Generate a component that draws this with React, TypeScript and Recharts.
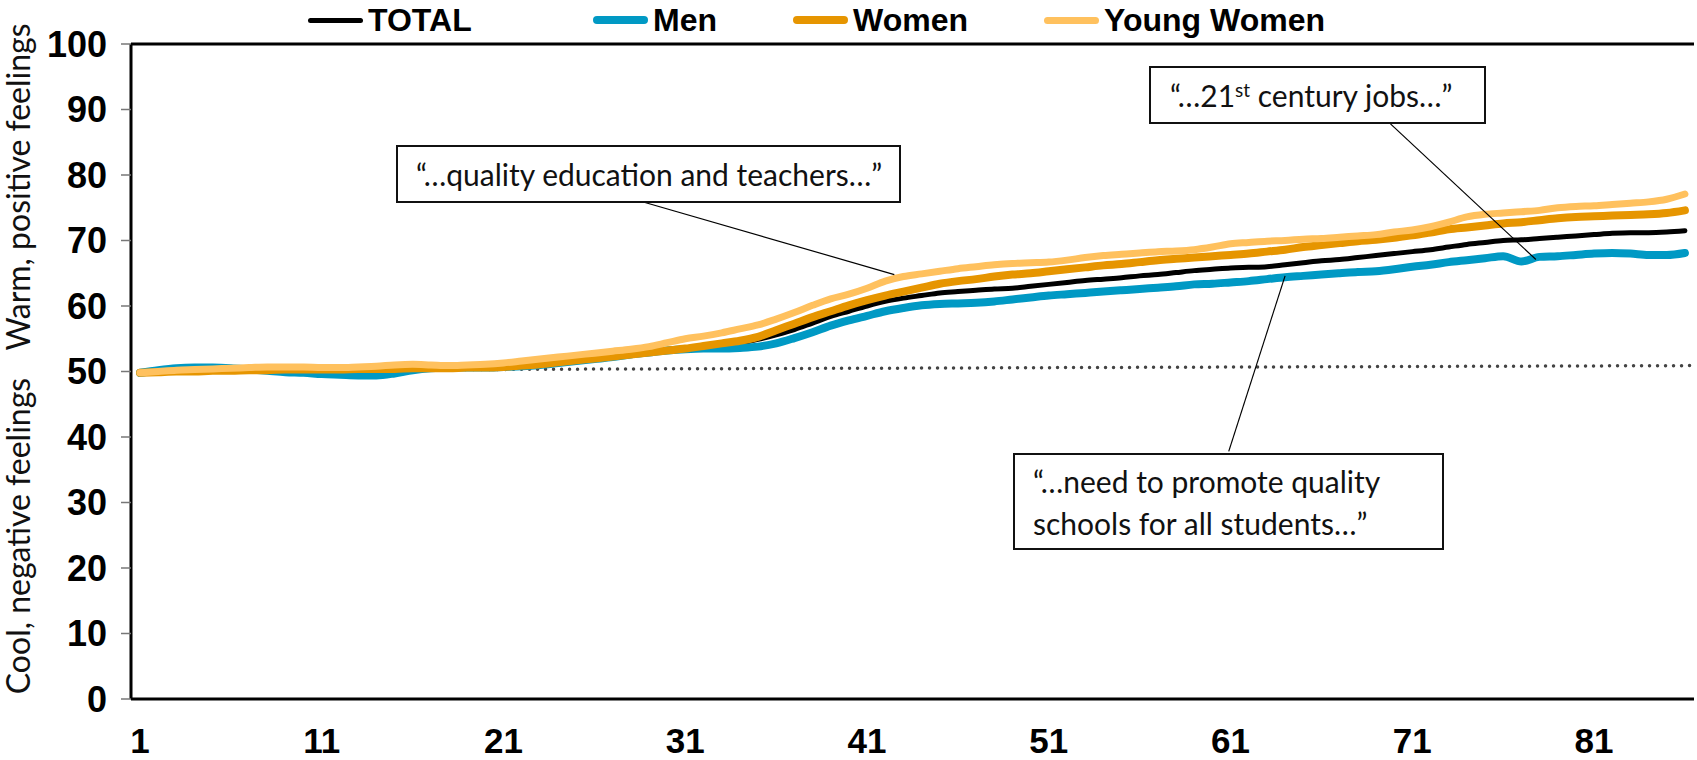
import React from "react";
import { LineChart, Line, XAxis, YAxis, ReferenceLine } from "recharts";

// values, one per category 1..86
const total = [
  49.8, 50.0, 50.1, 50.2, 50.2, 50.2, 50.1, 50.1, 50.1, 50.0,
  50.0, 49.9, 49.9, 49.9, 50.1, 50.3, 50.4, 50.5, 50.5, 50.6,
  50.7, 50.9, 51.1, 51.4, 51.7, 52.0, 52.3, 52.6, 52.9, 53.1,
  53.3, 53.6, 53.9, 54.3, 54.9, 55.6, 56.4, 57.4, 58.4, 59.2,
  60.0, 60.7, 61.2, 61.6, 62.0, 62.2, 62.4, 62.6, 62.7, 63.0,
  63.3, 63.6, 63.9, 64.1, 64.3, 64.6, 64.8, 65.1, 65.4, 65.6,
  65.8, 65.9, 66.0, 66.3, 66.6, 66.9, 67.1, 67.4, 67.7, 68.0,
  68.3, 68.6, 69.0, 69.4, 69.7, 70.0, 70.1, 70.3, 70.5, 70.7,
  70.9, 71.1, 71.2, 71.2, 71.3, 71.5,
];
const men = [
  49.8, 50.2, 50.5, 50.6, 50.6, 50.5, 50.3, 50.1, 49.9, 49.8,
  49.6, 49.5, 49.4, 49.4, 49.7, 50.2, 50.5, 50.6, 50.6, 50.6,
  50.7, 50.8, 51.0, 51.3, 51.6, 51.9, 52.2, 52.6, 52.9, 53.2,
  53.4, 53.5, 53.5, 53.6, 53.8, 54.3, 55.1, 56.0, 57.0, 57.8,
  58.5, 59.2, 59.7, 60.1, 60.3, 60.4, 60.5, 60.7, 61.0, 61.3,
  61.6, 61.8, 62.0, 62.2, 62.4, 62.6, 62.8, 63.0, 63.3, 63.4,
  63.6, 63.8, 64.1, 64.4, 64.6, 64.8, 65.0, 65.2, 65.3, 65.6,
  66.0, 66.3, 66.7, 67.0, 67.3, 67.6, 66.8, 67.5, 67.6, 67.8,
  68.0, 68.1, 68.0, 67.8, 67.8, 68.1,
];
const women = [
  49.8, 49.9, 50.0, 50.0, 50.1, 50.1, 50.2, 50.2, 50.3, 50.3,
  50.3, 50.3, 50.4, 50.4, 50.4, 50.5, 50.5, 50.5, 50.6, 50.6,
  50.7, 50.9, 51.1, 51.4, 51.7, 52.0, 52.3, 52.6, 52.9, 53.2,
  53.5, 53.9, 54.3, 54.7, 55.3, 56.3, 57.3, 58.3, 59.2, 60.1,
  60.9, 61.6, 62.2, 62.8, 63.4, 63.8, 64.1, 64.5, 64.8, 65.0,
  65.3, 65.6, 65.9, 66.2, 66.4, 66.7, 67.0, 67.2, 67.4, 67.6,
  67.8, 68.0, 68.3, 68.6, 69.0, 69.3, 69.6, 69.9, 70.1, 70.4,
  70.8, 71.2, 71.7, 72.0, 72.3, 72.6, 72.8, 73.1, 73.4, 73.6,
  73.7, 73.8, 73.9, 74.0, 74.2, 74.6,
];
const youngWomen = [
  49.8, 50.0, 50.2, 50.3, 50.4, 50.5, 50.6, 50.7, 50.7, 50.7,
  50.6, 50.6, 50.7, 50.8, 51.0, 51.1, 51.0, 50.9, 51.0, 51.1,
  51.3, 51.6, 51.9, 52.2, 52.5, 52.8, 53.1, 53.4, 53.8, 54.4,
  55.0, 55.4, 55.9, 56.5, 57.1, 58.0, 59.0, 60.1, 61.1, 61.8,
  62.7, 63.8, 64.5, 64.9, 65.3, 65.7, 66.0, 66.3, 66.5, 66.6,
  66.7, 67.0, 67.4, 67.7, 67.9, 68.1, 68.3, 68.4, 68.6, 69.0,
  69.5, 69.7, 69.9, 70.0, 70.2, 70.3, 70.5, 70.7, 70.9, 71.3,
  71.6, 72.1, 72.8, 73.6, 74.0, 74.2, 74.4, 74.6, 75.0, 75.2,
  75.3, 75.5, 75.7, 75.9, 76.3, 77.1,
];

const xLabels = [1, 11, 21, 31, 41, 51, 61, 71, 81];
const yTicks = [0, 10, 20, 30, 40, 50, 60, 70, 80, 90, 100];

const seriesKeys = ["total", "men", "women", "young"];
const seriesNames = ["TOTAL", "Men", "Women", "Young Women"];
const seriesColors = ["#000000", "#0099c4", "#e69500", "#ffc15e"];
const seriesWidths = [5, 8, 8, 7];

const data = total.map((v, i) => ({
  x: i + 1,
  total: v,
  men: men[i],
  women: women[i],
  young: youngWomen[i],
}));

// tick marks sit between the categories
const boundaries = [0.5, ...data.map((d) => d.x + 0.5)];
const domainX: [number, number] = [0.5, data.length + 0.5];

const labelFont = "'Liberation Sans', Arial, sans-serif";
const noteFont = "Lato, 'Open Sans', sans-serif";

const legendLeft = [308, 593, 793, 1044];

const boxStyle: React.CSSProperties = {
  position: "absolute",
  background: "#fff",
  border: "2px solid #111",
  boxSizing: "border-box",
  fontFamily: noteFont,
  color: "#111",
  display: "flex",
  alignItems: "center",
  whiteSpace: "nowrap",
};

const titleStyle: React.CSSProperties = {
  position: "absolute",
  left: 17,
  transform: "translate(-50%, -50%) rotate(-90deg)",
  fontFamily: noteFont,
  fontSize: 32,
  color: "#111",
  whiteSpace: "nowrap",
};

export default function App() {
  return (
    <div style={{ position: "absolute", left: 0, top: 0, width: 1697, height: 760, background: "#fff" }}>
      <LineChart
        width={1697}
        height={760}
        data={data}
        margin={{ top: 44, right: 3, left: 0, bottom: 0 }}
      >
        <YAxis
          type="number"
          domain={[0, 100]}
          ticks={yTicks}
          width={131}
          interval={0}
          axisLine={{ stroke: "#000", strokeWidth: 3 }}
          tickLine={{ stroke: "#777", strokeWidth: 1.5 }}
          tickSize={10}
          tickMargin={14}
          tick={{ fontSize: 36, fontWeight: 700, fill: "#000", fontFamily: labelFont }}
        />
        <XAxis
          xAxisId={0}
          dataKey="x"
          type="number"
          domain={domainX}
          ticks={boundaries}
          interval={0}
          height={1}
          axisLine={{ stroke: "#000", strokeWidth: 3 }}
          tickLine={{ stroke: "#555", strokeWidth: 1.5 }}
          tickSize={12}
          tick={false}
        />
        <XAxis
          xAxisId="labels"
          dataKey="x"
          type="number"
          domain={domainX}
          ticks={xLabels}
          interval={0}
          height={60}
          axisLine={false}
          tickLine={false}
          tickMargin={22}
          tick={{ fontSize: 35, fontWeight: 700, fill: "#000", fontFamily: labelFont }}
        />
        <ReferenceLine y={100} stroke="#000" strokeWidth={3} />
        <ReferenceLine
          segment={[{ x: 1.3, y: 50.15 }, { x: 86.5, y: 50.9 }]}
          stroke="#444"
          strokeWidth={3.5}
          strokeDasharray="0 8"
          strokeLinecap="round"
          ifOverflow="visible"
        />
        {seriesKeys.map((k, i) => (
          <Line
            key={k}
            dataKey={k}
            name={seriesNames[i]}
            type="monotone"
            stroke={seriesColors[i]}
            strokeWidth={seriesWidths[i]}
            strokeLinecap="round"
            dot={false}
            activeDot={false}
            isAnimationActive={false}
          />
        ))}
        {/* leader lines from the quote boxes */}
        <ReferenceLine
          segment={[{ x: 28.4, y: 76.1 }, { x: 42.5, y: 64.8 }]}
          stroke="#000"
          strokeWidth={1.2}
          ifOverflow="visible"
        />
        <ReferenceLine
          segment={[{ x: 69.8, y: 87.8 }, { x: 77.8, y: 67.1 }]}
          stroke="#000"
          strokeWidth={1.2}
          ifOverflow="visible"
        />
        <ReferenceLine
          segment={[{ x: 60.9, y: 37.8 }, { x: 64.0, y: 64.6 }]}
          stroke="#000"
          strokeWidth={1.2}
          ifOverflow="visible"
        />
      </LineChart>

      {/* legend */}
      {seriesNames.map((name, i) => (
        <div
          key={name}
          style={{
            position: "absolute",
            left: legendLeft[i],
            top: 1,
            height: 38,
            display: "flex",
            alignItems: "center",
            fontFamily: labelFont,
            fontWeight: 700,
            fontSize: 32,
            color: "#000",
            whiteSpace: "nowrap",
          }}
        >
          <span
            style={{
              display: "inline-block",
              width: 55,
              height: seriesWidths[i],
              borderRadius: seriesWidths[i] / 2,
              background: seriesColors[i],
              marginRight: 5,
            }}
          />
          {name}
        </div>
      ))}

      {/* axis titles */}
      <div style={{ ...titleStyle, top: 187 }}>Warm, positive feelings</div>
      <div style={{ ...titleStyle, top: 536 }}>Cool, negative feelings</div>

      {/* quote boxes */}
      <div style={{ ...boxStyle, left: 396, top: 145, width: 505, height: 58, paddingLeft: 18, fontSize: 30 }}>
        “…quality education and teachers…”
      </div>
      <div style={{ ...boxStyle, left: 1149, top: 66, width: 337, height: 58, paddingLeft: 19, fontSize: 30 }}>
        <span>
          “…21<sup style={{ fontSize: 19, verticalAlign: "10px", lineHeight: 0 }}>st</sup> century jobs…”
        </span>
      </div>
      <div
        style={{
          ...boxStyle,
          left: 1013,
          top: 453,
          width: 431,
          height: 97,
          paddingLeft: 18,
          fontSize: 30,
          lineHeight: "42px",
        }}
      >
        <span>
          “…need to promote quality
          <br />
          schools for all students…”
        </span>
      </div>
    </div>
  );
}
